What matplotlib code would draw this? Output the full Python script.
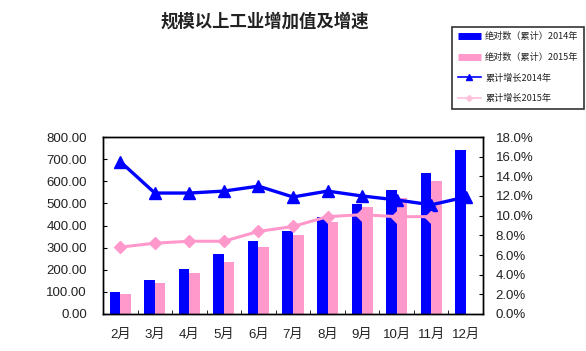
import matplotlib
matplotlib.use("Agg")
import matplotlib.pyplot as plt
from matplotlib.lines import Line2D
import numpy as np

plt.rcParams['font.family'] = ['Liberation Sans', 'Noto Sans CJK SC', 'DejaVu Sans']

months = ['2月', '3月', '4月', '5月', '6月', '7月', '8月', '9月', '10月', '11月', '12月']
abs_2014 = [100, 155, 204, 272, 332, 377, 440, 498, 562, 636, 740]
abs_2015 = [91, 141, 186, 236, 304, 358, 418, 482, 523, 600, 0]
growth_2014 = [15.5, 12.3, 12.3, 12.5, 13.0, 11.9, 12.5, 12.0, 11.6, 11.1, 11.9]
growth_2015 = [6.8, 7.2, 7.4, 7.4, 8.4, 8.9, 9.9, 10.1, 9.9, 9.9]

blue = '#0000FF'
pink = '#FF99CC'
txt = '#222222'

fig = plt.figure(figsize=(5.86, 3.51), dpi=100)
ax = fig.add_axes([103 / 586, 1 - 314 / 351, 380 / 586, 177 / 351])
x = np.arange(len(months))
w = 0.305

ax.bar(x - w / 2, abs_2014, width=w, color=blue, zorder=2)
ax.bar(x[:10] + w / 2, abs_2015[:10], width=w, color=pink, zorder=2)
ax.set_ylim(0, 800)
ax.set_xlim(-0.5, len(months) - 0.5)
ax.set_yticks(np.arange(0, 801, 100))
ax.set_yticklabels(['%.2f' % v for v in np.arange(0, 801, 100)], fontsize=9.5, color=txt)
ax.set_xticks(x)
ax.set_xticklabels(months, fontsize=9.5, color=txt)
ax.set_xticks(np.arange(-0.5, len(months)), minor=True)
ax.tick_params(axis='x', which='major', length=0, pad=11)
ax.tick_params(axis='x', which='minor', length=3, direction='in')
ax.tick_params(axis='y', length=3, direction='in', pad=11.5)

ax2 = ax.twinx()
ax2.plot(x, growth_2014, color=blue, lw=2.4, marker='^', ms=8, zorder=3)
ax2.plot(x[:10], growth_2015, color=pink, lw=2.2, marker='D', ms=6, zorder=3)
ax2.set_ylim(0, 18)
ax2.set_yticks(np.arange(0, 18.1, 2))
ax2.set_yticklabels(['%.1f%%' % v for v in np.arange(0, 18.1, 2)], fontsize=9.5, color=txt)
ax2.tick_params(axis='y', length=3, direction='in', pad=9)

for a in (ax, ax2):
    for s in a.spines.values():
        s.set_linewidth(1.0)
        s.set_color('black')

fig.text(265 / 586, 1 - 22 / 351, '规模以上工业增加值及增速', ha='center', va='center',
         fontsize=12.5, fontweight='bold', color=txt,
         family=['Noto Sans CJK SC', 'DejaVu Sans'])

handles = [
    Line2D([], [], color=blue, lw=5, solid_capstyle='butt'),
    Line2D([], [], color=pink, lw=5, solid_capstyle='butt'),
    Line2D([], [], color=blue, lw=1.2, marker='^', ms=5),
    Line2D([], [], color='#FFC0DC', lw=1.2, marker='D', ms=3),
]
labels = ['绝对数（累计）2014年', '绝对数（累计）2015年', '累计增长2014年', '累计增长2015年']
leg = fig.legend(handles, labels, loc='upper right', bbox_to_anchor=(584 / 586, 1 - 27 / 351),
                 frameon=True, fancybox=False, edgecolor='black',
                 handlelength=2.5, handletextpad=0.5, labelspacing=1.25, borderpad=0.6,
                 borderaxespad=0,
                 prop={'family': ['Noto Sans CJK SC', 'DejaVu Sans'], 'size': 6.6})
leg.get_frame().set_linewidth(1.2)
for t in leg.get_texts():
    t.set_color(txt)

fig.savefig('out.png', dpi=100)
